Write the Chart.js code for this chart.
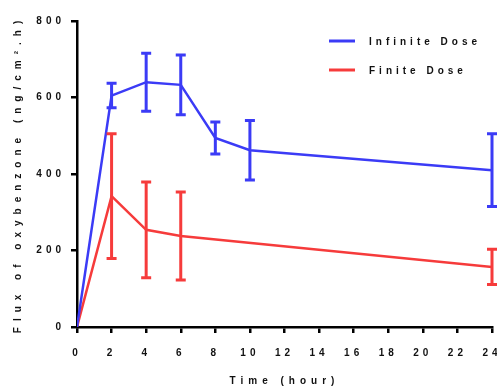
<!DOCTYPE html>
<html><head><meta charset="utf-8">
<script src="https://cdn.jsdelivr.net/npm/chart.js@4/dist/chart.umd.min.js"></script>
<style>html,body{margin:0;padding:0;background:#fff}#wrap{width:497px;height:387px}</style>
</head><body><div id="wrap"><canvas id="c" width="497" height="387"></canvas></div>
<script>
const infiniteHours = [0, 2, 4, 6, 8, 10, 24];
const infiniteMean  = [0, 605, 640, 633, 494, 462, 410];
const infiniteSD    = [0, 32, 76, 78, 42, 78, 95];
const finiteHours   = [0, 2, 4, 6, 24];
const finiteMean    = [0, 342, 254, 238, 157];
const finiteSD      = [0, 163, 125, 115, 46];
const xTicks = [0,2,4,6,8,10,12,14,16,18,20,22,24];
const yTicks = [0,200,400,600,800];
const seriesNames = ['Infinite Dose', 'Finite Dose'];
const BLUE = '#3b3bf6', RED = '#f63b3b';
const FONT = '"Liberation Sans", Arial, sans-serif';

function pts(xs, ys){ return xs.map((x,i)=>({x, y: ys[i]})); }

const LS = Chart.registry.getScale('linear');
const origTitle = LS.prototype.drawTitle;
LS.prototype.drawTitle = function(){ this.ctx.save(); this.ctx.letterSpacing = this.axis==='y' ? '6px' : '5px'; origTitle.call(this); this.ctx.restore(); };
const origLabels = LS.prototype.drawLabels;
LS.prototype.drawLabels = function(a){ this.ctx.save(); this.ctx.letterSpacing='4px'; origLabels.call(this,a); this.ctx.restore(); };

const spacing = {
  id:'spacing',
  beforeLayout(c){ c.ctx.letterSpacing='4px'; },
  afterLayout(c){ c.ctx.letterSpacing='0px'; }
};

const errorBars = {
  id:'errorBars',
  afterDatasetsDraw(c){
    const ctx=c.ctx, xs=c.scales.x, ys=c.scales.y;
    c.data.datasets.forEach(ds=>{
      ctx.save();
      ctx.strokeStyle=ds.borderColor; ctx.lineWidth=3; ctx.lineCap='butt';
      ds.data.forEach((p,i)=>{
        const sd=ds.sd[i]; if(!sd) return;
        const px=xs.getPixelForValue(p.x);
        const t=ys.getPixelForValue(p.y+sd), b=ys.getPixelForValue(p.y-sd);
        ctx.beginPath();
        ctx.moveTo(px,t); ctx.lineTo(px,b);
        ctx.moveTo(px-5,t); ctx.lineTo(px+5,t);
        ctx.moveTo(px-5,b); ctx.lineTo(px+5,b);
        ctx.stroke();
      });
      ctx.restore();
    });
  }
};

const legendPlug = {
  id:'legendPlug',
  afterDraw(c){
    const ctx=c.ctx;
    ctx.save();
    ctx.letterSpacing='4px';
    ctx.font='bold 10px '+FONT;
    ctx.textBaseline='middle';
    c.data.datasets.forEach((ds,i)=>{
      const y=41+i*29;
      ctx.strokeStyle=ds.borderColor; ctx.lineWidth=3;
      ctx.beginPath(); ctx.moveTo(329,y); ctx.lineTo(355,y); ctx.stroke();
      ctx.fillStyle='#111';
      ctx.fillText(ds.label,369,y+1);
    });
    ctx.restore();
  }
};

new Chart(document.getElementById('c'),{
  type:'line',
  data:{datasets:[
    {label:seriesNames[0], data:pts(infiniteHours,infiniteMean), sd:infiniteSD, borderColor:BLUE, backgroundColor:BLUE, borderWidth:2.5, pointRadius:0, tension:0},
    {label:seriesNames[1], data:pts(finiteHours,finiteMean), sd:finiteSD, borderColor:RED, backgroundColor:RED, borderWidth:2.5, pointRadius:0, tension:0}
  ]},
  options:{
    responsive:false, animation:false, devicePixelRatio:1,
    layout:{padding:{left:0,right:5,top:21,bottom:0}},
    plugins:{legend:{display:false}, tooltip:{enabled:false}},
    scales:{
      x:{type:'linear', min:0, max:24,
        afterBuildTicks(s){ s.ticks=xTicks.map(v=>({value:v})); },
        afterFit(s){ s.height=60; s.paddingLeft=0; s.paddingRight=0; },
        border:{color:'#000', width:2.5},
        grid:{drawOnChartArea:false, color:'#000', lineWidth:2.5, tickLength:6, tickColor:'#000'},
        ticks:{color:'#111', font:{family:FONT, size:10, weight:'bold'}, padding:14, maxRotation:0, autoSkip:false},
        title:{display:true, text:'Time (hour)', color:'#111', font:{family:FONT, size:10, weight:'bold'}, padding:{top:12,bottom:0}}
      },
      y:{min:0, max:800,
        afterBuildTicks(s){ s.ticks=yTicks.map(v=>({value:v})); },
        afterFit(s){ s.width=77; s.paddingTop=0; s.paddingBottom=0; },
        border:{color:'#000', width:2.5},
        grid:{drawOnChartArea:false, color:'#000', lineWidth:2.5, tickLength:6, tickColor:'#000'},
        ticks:{color:'#111', font:{family:FONT, size:10, weight:'bold'}, padding:6},
        title:{display:true, text:'Flux of oxybenzone (ng/cm\u00B2.h)', color:'#111', font:{family:FONT, size:10, weight:'bold'}, padding:{top:12,bottom:0}}
      }
    }
  },
  plugins:[spacing, errorBars, legendPlug]
});
</script></body></html>
